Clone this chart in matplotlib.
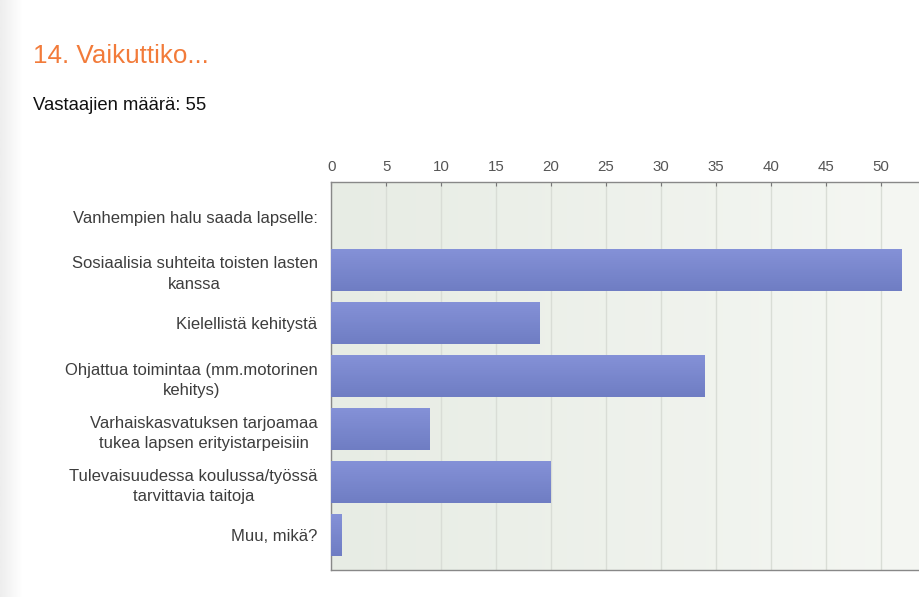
import numpy as np
import matplotlib
matplotlib.use("Agg")
import matplotlib.pyplot as plt
from matplotlib.colors import LinearSegmentedColormap

plt.rcParams['font.family'] = ['Liberation Sans', 'DejaVu Sans']

# data
categories = [
    "Vanhempien halu saada lapselle:",
    "Sosiaalisia suhteita toisten lasten\nkanssa",
    "Kielellistä kehitystä",
    "Ohjattua toimintaa (mm.motorinen\nkehitys)",
    "Varhaiskasvatuksen tarjoamaa\ntukea lapsen erityistarpeisiin",
    "Tulevaisuudessa koulussa/työssä\ntarvittavia taitoja",
    "Muu, mikä?",
]
counts = [0, 52, 19, 34, 9, 20, 1]
xticks = list(range(0, 55, 5))

title = "14. Vaikuttiko..."
subtitle = "Vastaajien määrä: 55"

fig = plt.figure(figsize=(9.2, 5.97), dpi=100)

# faint grey strip on the left edge of the page
bg = fig.add_axes([0, 0, 1, 1], zorder=-10)
strip = np.linspace(0.93, 1.0, 40).reshape(1, -1)
bg.imshow(strip, cmap='gray', vmin=0, vmax=1, aspect='auto',
          extent=(0, 0.025, 0, 1))
bg.set_xlim(0, 1)
bg.set_ylim(0, 1)
bg.axis('off')

fig.text(33 / 920, 1 - 56 / 597, title, color='#f27b3a', fontsize=18.7,
         va='center', ha='left')
fig.text(33 / 920, 1 - 106 / 597, subtitle, color='#111111', fontsize=13.3,
         va='center', ha='left')

ax = fig.add_axes([331.5 / 920, 1 - 570 / 597, 1 - 331.5 / 920, (570 - 182) / 597])

xmax = (920 - 331.5) / 10.98
ymin, ymax = -0.66, len(categories) - 1 + 0.66

# greenish gradient background of the plot area
grad = np.linspace(0, 1, 256).reshape(1, -1)
bgmap = LinearSegmentedColormap.from_list('bg', ['#e7ece4', '#f5f7f3'])
ax.imshow(grad, cmap=bgmap, aspect='auto', extent=(0, xmax, ymax, ymin), zorder=0)

y = np.arange(len(categories))
barmap = LinearSegmentedColormap.from_list('bar', ['#8592d8', '#6f7dc3'])
bars = ax.barh(y, counts, height=0.81, color='#7a87cf', zorder=2)
for b in bars:
    if b.get_width() <= 0:
        continue
    x0, y0 = b.get_x(), b.get_y()
    w, h = b.get_width(), b.get_height()
    im = ax.imshow(np.linspace(0, 1, 64).reshape(-1, 1), cmap=barmap,
                   aspect='auto', extent=(x0, x0 + w, y0 + h, y0), zorder=3)
    im.set_clip_path(b)

ax.set_xlim(0, xmax)
ax.set_ylim(ymax, ymin)

ax.set_xticks(xticks)
ax.xaxis.tick_top()
ax.tick_params(axis='x', colors='#777777', labelcolor='#555555', labelsize=10.8,
               length=3, direction='in', pad=6)
ax.grid(axis='x', color='#d9ddd6', linewidth=1, zorder=1)
ax.set_axisbelow(True)

ax.set_yticks(y)
ax.set_yticklabels(categories, fontsize=12, color='#3d3d3d',
                   multialignment='center', linespacing=1.45)
ax.tick_params(axis='y', length=0, pad=10)

for s in ['left', 'top', 'bottom']:
    ax.spines[s].set_color('#888888')
    ax.spines[s].set_linewidth(1)
ax.spines['right'].set_visible(False)

fig.savefig('out.png', dpi=100)
